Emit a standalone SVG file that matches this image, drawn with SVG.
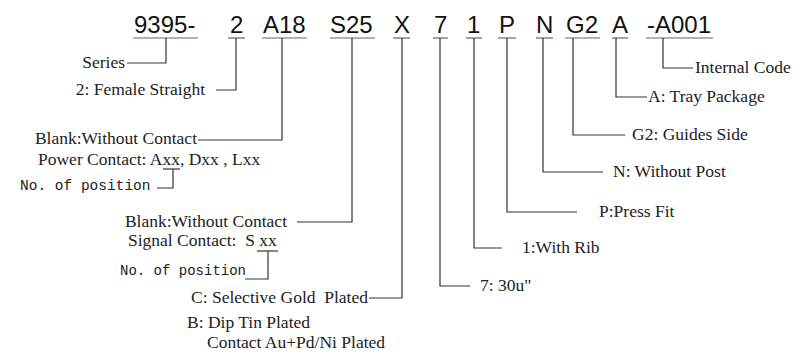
<svg xmlns="http://www.w3.org/2000/svg" width="810" height="358" viewBox="0 0 810 358">
<style>
.code{font-family:"Liberation Sans",Arial,sans-serif;font-size:24px;fill:#111}
.lbl{font-family:"Liberation Serif","Times New Roman",serif;font-size:17.5px;fill:#222}
.mono{font-family:"Liberation Mono","Courier New",monospace;font-size:14.5px;fill:#222}
.ul{stroke:#666;stroke-width:1.2;fill:none}
.ln{stroke:#333;stroke-width:1.2;fill:none}
</style>
<rect width="810" height="358" fill="#fff"/>
<g id="codes">
<g id="c-series"><text class="code" x="134" y="33">9395-</text><line class="ul" x1="133" y1="38" x2="198" y2="38"/></g>
<g id="c-type"><text class="code" x="230" y="33">2</text><line class="ul" x1="228" y1="38" x2="245" y2="38"/></g>
<g id="c-power"><text class="code" x="263" y="33">A18</text><line class="ul" x1="262" y1="38" x2="307" y2="38"/></g>
<g id="c-signal"><text class="code" x="330" y="33">S25</text><line class="ul" x1="330" y1="38" x2="375" y2="38"/></g>
<g id="c-plating"><text class="code" x="394" y="33">X</text><line class="ul" x1="393" y1="38" x2="410" y2="38"/></g>
<g id="c-gold"><text class="code" x="434" y="33">7</text><line class="ul" x1="433" y1="38" x2="448" y2="38"/></g>
<g id="c-rib"><text class="code" x="467" y="33">1</text><line class="ul" x1="466" y1="38" x2="482" y2="38"/></g>
<g id="c-press"><text class="code" x="499" y="33">P</text><line class="ul" x1="498" y1="38" x2="516" y2="38"/></g>
<g id="c-post"><text class="code" x="536" y="33">N</text><line class="ul" x1="536" y1="38" x2="553" y2="38"/></g>
<g id="c-guide"><text class="code" x="566" y="33">G2</text><line class="ul" x1="565" y1="38" x2="600" y2="38"/></g>
<g id="c-pack"><text class="code" x="612" y="33">A</text><line class="ul" x1="612" y1="38" x2="628" y2="38"/></g>
<g id="c-internal"><text class="code" x="647" y="33">-A001</text><line class="ul" x1="646" y1="38" x2="713" y2="38"/></g>
</g>
<g id="labels">
<g id="l-series"><text class="lbl" x="125" y="68" text-anchor="end">Series</text></g>
<g id="l-type"><text class="lbl" x="205" y="95" text-anchor="end">2: Female Straight</text></g>
<g id="l-power">
<text class="lbl" x="197" y="144" text-anchor="end">Blank:Without Contact</text>
<text class="lbl" x="38" y="165">Power Contact: Axx, Dxx , Lxx</text>
<text class="mono" x="20" y="190">No. of position</text>
</g>
<g id="l-signal">
<text class="lbl" x="287" y="227" text-anchor="end">Blank:Without Contact</text>
<text class="lbl" x="128" y="246">Signal Contact:&#160; S xx</text>
<text class="mono" x="120" y="275" style="font-size:14px">No. of position</text>
</g>
<g id="l-plating">
<text class="lbl" x="368" y="303" text-anchor="end">C: Selective Gold&#160; Plated</text>
<text class="lbl" x="187" y="328">B: Dip Tin Plated</text>
<text class="lbl" x="207" y="348">Contact Au+Pd/Ni Plated</text>
</g>
<g id="l-gold"><text class="lbl" x="480" y="291">7: 30u"</text></g>
<g id="l-rib"><text class="lbl" x="522" y="253">1:With Rib</text></g>
<g id="l-press"><text class="lbl" x="599" y="217">P:Press Fit</text></g>
<g id="l-post"><text class="lbl" x="613" y="177">N: Without Post</text></g>
<g id="l-guide"><text class="lbl" x="632" y="140">G2: Guides Side</text></g>
<g id="l-pack"><text class="lbl" x="648" y="102">A: Tray Package</text></g>
<g id="l-internal"><text class="lbl" x="695" y="73">Internal Code</text></g>
</g>
<g id="connectors">
<polyline class="ln" points="166,38 166,63 127,63"/>
<polyline class="ln" points="236,38 236,90 216,90"/>
<polyline class="ln" points="282,38 282,140 198,140"/>
<polyline class="ln" points="163,169 180,169"/>
<polyline class="ln" points="173,169 173,188 157,188"/>
<polyline class="ln" points="352,38 352,222 297,222"/>
<polyline class="ln" points="257,251 278,251"/>
<polyline class="ln" points="268,251 268,279 245,279"/>
<polyline class="ln" points="402,38 402,298 369,298"/>
<polyline class="ln" points="440,38 440,286 470,286"/>
<polyline class="ln" points="474,38 474,248 502,248"/>
<polyline class="ln" points="507,38 507,212 577,212"/>
<polyline class="ln" points="543,38 543,172 603,172"/>
<polyline class="ln" points="573,38 573,135 625,135"/>
<polyline class="ln" points="616,38 616,97 647,97"/>
<polyline class="ln" points="663,38 663,68 693,68"/>
</g>
</svg>
